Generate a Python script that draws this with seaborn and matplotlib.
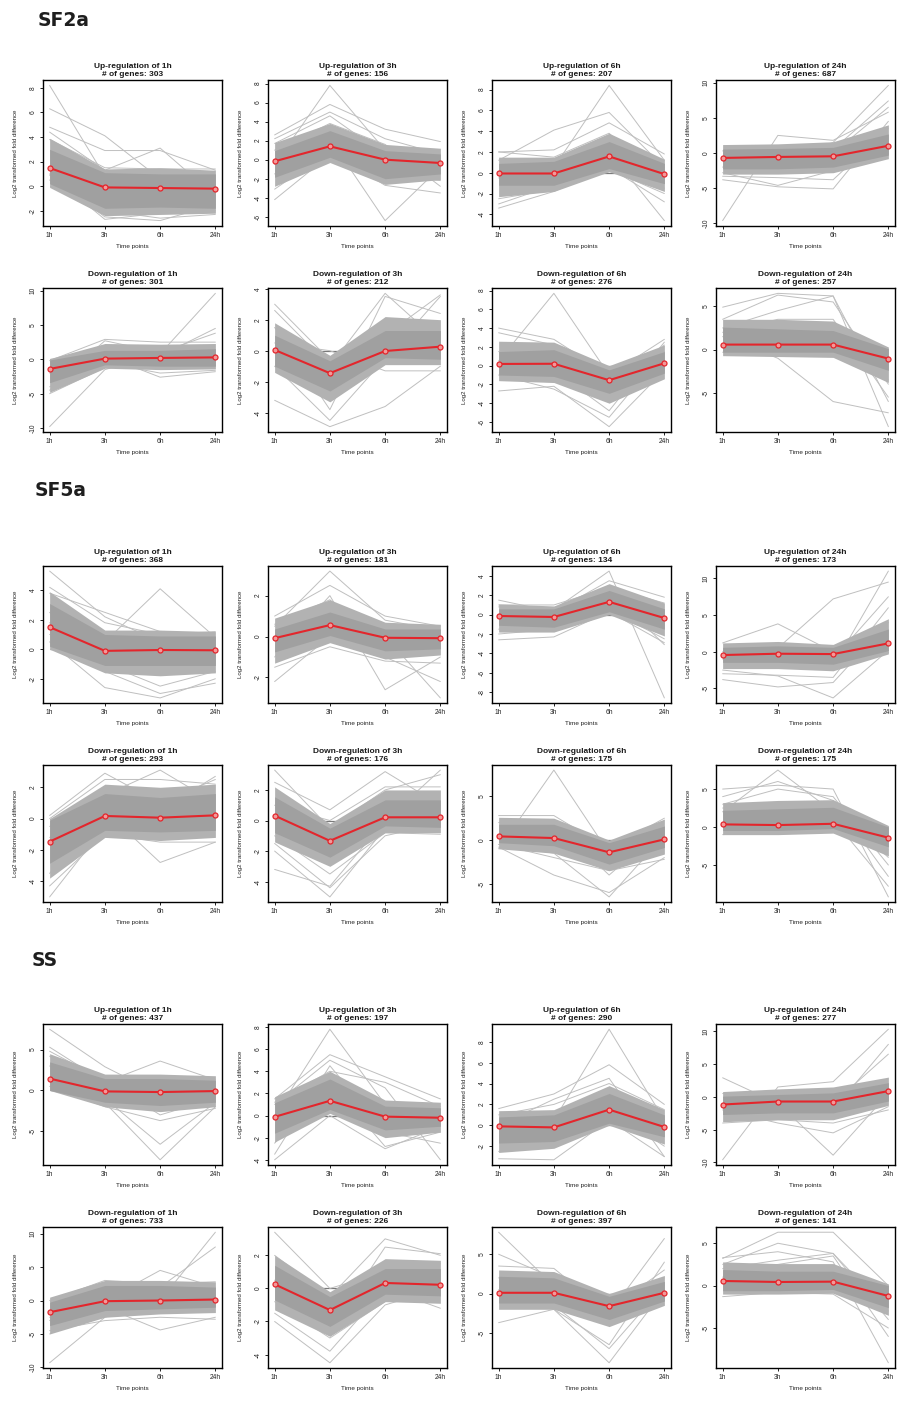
import numpy as np
import pandas as pd
import matplotlib
matplotlib.use("Agg")
import matplotlib.pyplot as plt
import seaborn as sns

# ---------------- data ----------------
TIMEPOINTS = ["1h", "3h", "6h", "24h"]
SECTIONS = ["SF2a", "SF5a", "SS"]
PANEL_TITLES = ["Up-regulation of 1h", "Up-regulation of 3h", "Up-regulation of 6h",
                "Up-regulation of 24h", "Down-regulation of 1h", "Down-regulation of 3h",
                "Down-regulation of 6h", "Down-regulation of 24h"]

# ---- SF2a ----
SF2A_NGENES = [303, 156, 207, 687, 301, 212, 276, 257]
SF2A_MEAN = [[1.48, -0.10, -0.15, -0.20], [-0.17, 1.40, 0.00, -0.35],
             [-0.07, -0.07, 1.57, -0.13], [-0.70, -0.56, -0.47, 1.03],
             [-1.40, 0.10, 0.20, 0.28], [0.05, -1.45, -0.02, 0.26],
             [0.18, 0.20, -1.55, 0.25], [0.58, 0.58, 0.58, -1.04]]
SF2A_LO = [[0.2, -1.8, -1.7, -1.8], [-1.85, 0.25, -2.0, -1.5],
           [-1.2, -1.2, 0.4, -1.05], [-2.25, -2.25, -2.0, -0.3],
           [-3.4, -0.8, -1.0, -1.0], [-1.0, -2.6, -0.45, -0.55],
           [-1.0, -1.15, -2.95, -0.8], [-0.3, -0.3, -0.3, -2.4]]
SF2A_HI = [[3.0, 1.1, 1.0, 1.0], [0.95, 3.05, 0.95, 0.6],
           [0.9, 1.1, 3.0, 0.9], [0.56, 0.65, 0.8, 2.7],
           [-0.1, 1.3, 1.3, 1.55], [1.0, -0.65, 1.3, 1.3],
           [1.5, 1.7, -0.45, 1.5], [2.6, 2.4, 2.2, 0.1]]
SF2A_OUTER_LO = [[-0.1, -2.4, -2.3, -2.2], [-2.8, -0.3, -2.6, -2.1],
                 [-2.3, -1.8, 0.1, -1.8], [-3.0, -3.0, -2.8, -0.8],
                 [-4.8, -1.3, -1.5, -1.4], [-1.4, -3.3, -0.9, -0.9],
                 [-1.6, -1.8, -4.0, -1.4], [-0.7, -0.8, -0.9, -3.8]]
SF2A_OUTER_HI = [[3.9, 1.4, 1.5, 1.3], [1.8, 3.8, 1.6, 1.2],
                 [1.5, 1.5, 3.8, 1.3], [1.2, 1.3, 1.6, 4.0],
                 [0.1, 2.3, 2.2, 2.3], [1.8, -0.3, 2.2, 2.0],
                 [2.6, 2.5, 0.0, 2.2], [3.5, 3.5, 3.3, 0.3]]
SF2A_OUTLIERS = [
    [[8.2, 0.8, 0.2, -0.5], [6.3, 4.1, 0.6, -0.3], [4.8, 2.9, 2.9, 1.3],
     [4.4, 1.3, 3.1, -0.8], [3.8, 1.5, 1.4, 1.4], [1.0, -2.7, -2.2, -2.0],
     [0.9, -2.5, -2.8, -1.5], [0.5, -2.0, -2.6, -2.3]],
    [[-0.5, 7.8, 1.0, -0.5], [2.6, 5.8, 3.2, 1.9], [2.2, 5.0, 2.2, 0.6],
     [1.7, 4.6, 0.5, -1.0], [-4.2, 0.5, -1.5, -2.2], [-3.1, 0.9, -2.7, -3.5],
     [-1.5, 2.2, -6.4, -0.8], [1.0, 3.8, 1.6, -2.8]],
    [[-0.5, 0.5, 8.4, 1.2], [1.2, 4.1, 5.8, 0.5], [2.0, 2.2, 4.8, 1.8],
     [2.0, 1.5, 3.8, -1.5], [-3.4, -1.8, 0.5, -2.8], [-3.0, -1.2, 2.0, -4.6],
     [-2.5, -1.6, 0.3, -2.0]],
    [[-9.6, 2.5, 1.8, 5.8], [-1.0, -1.5, 1.5, 9.6], [0.3, -0.5, 0.5, 7.4],
     [-2.0, -1.0, 0.0, 6.5], [-3.8, -4.8, -5.1, 4.5], [-3.3, -3.5, -3.8, 3.5],
     [-2.8, -4.6, -2.5, 2.0]],
    [[-9.8, -1.5, 0.8, 9.6], [-5.0, -1.2, 0.5, 4.5], [-4.5, 2.7, 1.0, 3.8],
     [-0.2, 2.9, 2.5, 2.5], [-2.0, 0.5, -2.6, -1.8], [-4.0, -0.5, -2.0, -1.6]],
    [[3.0, -0.6, 1.0, 3.6], [2.6, -1.0, 3.7, 0.5], [-3.2, -4.9, -3.6, -1.0],
     [-1.0, -4.5, -0.5, 3.5], [1.5, -3.8, 3.5, 2.4], [0.5, 0.0, -1.3, -1.3]],
    [[0.5, 7.7, -1.0, 0.5], [4.0, 2.8, -1.0, 2.8], [3.5, 2.2, -2.0, 2.2],
     [-2.7, -2.2, -6.5, -0.5], [-1.0, -2.5, -5.5, 1.5], [1.5, -0.5, -4.8, 2.5]],
    [[4.9, 6.5, 6.2, -8.9], [3.5, 6.3, 5.5, -4.0], [2.5, 4.5, 6.2, -6.0],
     [1.5, -1.0, -6.0, -7.3], [2.0, 3.5, 3.5, -5.5], [-0.3, -0.5, 0.0, -3.5]],
]
SF2A_YTICKS = [[-2, 0, 2, 4, 6, 8], [-6, -4, -2, 0, 2, 4, 6, 8], [-4, -2, 0, 2, 4, 6, 8],
               [-10, -5, 0, 5, 10], [-10, -5, 0, 5, 10], [-4, -2, 0, 2, 4],
               [-6, -4, -2, 0, 2, 4, 6, 8], [-5, 0, 5]]

# ---- SF5a ----
SF5A_NGENES = [368, 181, 134, 173, 293, 176, 175, 175]
SF5A_MEAN = [[1.50, -0.11, -0.05, -0.07], [-0.08, 0.56, -0.06, -0.08],
             [-0.14, -0.24, 1.32, -0.35], [-0.45, -0.27, -0.32, 1.14],
             [-1.47, 0.17, 0.06, 0.21], [0.32, -1.33, 0.21, 0.21],
             [0.42, 0.23, -1.40, 0.08], [0.35, 0.26, 0.43, -1.40]]
SF5A_LO = [[0.2, -1.1, -1.1, -1.1], [-0.75, 0.05, -0.7, -0.6],
           [-1.1, -1.3, 0.3, -1.5], [-1.45, -1.45, -1.7, 0.15],
           [-2.85, -0.75, -0.85, -0.75], [-0.8, -2.4, -0.35, -0.45],
           [-0.3, -0.65, -2.75, -0.85], [-0.45, -0.45, -0.2, -2.6]]
SF5A_HI = [[3.1, 1.0, 0.9, 0.9], [0.37, 1.2, 0.37, 0.37],
           [0.6, 0.6, 2.5, 0.6], [0.6, 0.8, 0.6, 3.1],
           [-0.1, 1.6, 1.35, 1.6], [1.55, -0.5, 1.35, 1.35],
           [1.8, 1.8, -0.3, 1.6], [2.2, 2.4, 2.6, 0.0]]
SF5A_OUTER_LO = [[0.0, -1.6, -1.8, -1.6], [-1.3, -0.3, -1.1, -0.9],
                 [-1.8, -1.8, 0.0, -2.2], [-2.3, -2.3, -2.6, -0.3],
                 [-3.8, -1.2, -1.4, -1.2], [-1.4, -3.0, -0.8, -0.8],
                 [-1.0, -1.5, -3.5, -1.6], [-1.0, -1.0, -0.8, -3.8]]
SF5A_OUTER_HI = [[3.9, 1.3, 1.3, 1.2], [0.9, 1.8, 0.7, 0.6],
                 [1.1, 0.9, 3.2, 1.2], [1.2, 1.4, 1.0, 4.5],
                 [0.0, 2.2, 2.0, 2.2], [2.2, -0.2, 2.0, 2.0],
                 [2.6, 2.5, 0.0, 2.4], [3.2, 3.5, 3.6, 0.2]]
SF5A_OUTLIERS = [
    [[5.3, 2.2, 0.5, -0.5], [4.2, 1.8, 1.0, 1.2], [1.0, 0.5, 4.1, 0.8],
     [3.8, 2.5, 1.2, 0.3], [0.5, -2.6, -3.3, -2.0], [1.8, -1.5, -3.0, -2.3],
     [2.5, -1.0, -2.5, -1.5]],
    [[0.5, 3.2, 0.8, 0.3], [1.0, 2.5, 1.0, 0.5], [-2.2, 0.0, -1.0, -0.5],
     [-1.0, 2.0, -2.6, -1.0], [0.0, 1.5, 0.0, -3.0], [0.6, 1.8, -1.0, -2.2],
     [-1.5, -0.5, -1.2, -1.3]],
    [[0.8, 0.5, 4.5, -8.6], [1.5, 0.3, 3.5, 1.8], [-2.6, -2.3, 0.3, -2.9],
     [-1.5, -0.5, 2.5, -3.1], [1.0, 1.0, 2.8, 1.2], [-2.0, -1.5, 0.5, -2.5]],
    [[-1.0, 0.5, 7.2, 9.5], [1.2, 3.8, 0.0, 2.0], [-2.5, -3.3, -6.3, 0.2],
     [-3.8, -4.8, -4.2, 4.0], [-0.5, -1.0, -2.0, 11.0], [0.0, -0.5, -1.0, 7.5],
     [-3.0, -3.2, -3.5, 6.0]],
    [[-5.0, -0.5, -1.0, 0.0], [0.2, 2.9, 1.0, 2.5], [-0.5, 1.5, 3.1, 1.0],
     [-1.2, 0.5, -2.8, -1.5], [-3.5, 1.0, 0.5, 2.7], [-4.3, -1.0, -1.5, -1.5],
     [0.0, 2.5, 2.5, 2.2]],
    [[3.3, -0.5, 2.0, 3.0], [2.5, 0.7, 3.2, 1.0], [-1.5, -4.4, -1.0, -0.2],
     [-2.0, -5.0, -0.5, 0.5], [-3.2, -4.3, 0.0, 3.3], [-1.0, -3.5, -0.8, -0.9],
     [1.0, 0.0, 2.2, 2.2]],
    [[-1.0, 8.0, -1.5, -0.5], [2.8, 2.8, -1.0, 2.5], [-0.5, -1.5, -6.5, 0.5],
     [-0.8, -4.0, -6.0, -2.0], [2.0, 2.0, -4.0, 1.5], [-0.5, -2.0, -3.5, -2.2]],
    [[2.0, 7.5, 2.0, -3.0], [5.0, 5.5, 5.0, -9.2], [4.0, 6.0, 3.5, -6.5],
     [3.0, 5.0, 4.0, -5.0], [-1.0, -0.5, 1.0, -7.8], [2.5, 3.0, 2.5, -4.0]],
]
SF5A_YTICKS = [[-2, 0, 2, 4], [-2, 0, 2], [-8, -6, -4, -2, 0, 2, 4], [-5, 0, 5, 10],
               [-4, -2, 0, 2], [-4, -2, 0, 2], [-5, 0, 5], [-5, 0, 5]]

# ---- SS ----
SS_NGENES = [437, 197, 290, 277, 733, 226, 397, 141]
SS_MEAN = [[1.45, -0.12, -0.20, -0.08], [-0.12, 1.33, -0.10, -0.20],
           [-0.10, -0.20, 1.50, -0.16], [-1.18, -0.72, -0.72, 0.87],
           [-1.75, -0.10, 0.00, 0.15], [0.25, -1.31, 0.33, 0.22],
           [0.10, 0.10, -1.60, 0.10], [0.55, 0.43, 0.47, -1.22]]
SS_LO = [[0.0, -1.45, -1.85, -1.45], [-1.6, 0.55, -1.3, -0.97],
         [-1.7, -1.55, 0.2, -1.1], [-2.7, -2.45, -2.45, -0.65],
         [-3.75, -1.5, -1.25, -1.0], [-0.7, -2.3, -0.35, -0.45],
         [-1.2, -1.2, -3.3, -0.95], [-0.6, -0.6, -0.45, -2.6]]
SS_HI = [[3.5, 1.45, 1.45, 1.25], [1.15, 3.3, 0.85, 0.7],
         [0.8, 1.0, 3.05, 1.0], [0.1, 0.35, 0.6, 2.15],
         [-0.25, 2.25, 2.25, 2.0], [1.4, -0.5, 1.2, 1.2],
         [2.2, 2.0, -0.35, 1.55], [1.9, 1.7, 1.7, 0.0]]
SS_OUTER_LO = [[0.0, -2.0, -2.6, -2.0], [-2.4, 0.2, -2.0, -1.5],
               [-2.6, -2.2, 0.0, -1.8], [-3.8, -3.5, -3.5, -1.3],
               [-5.0, -2.5, -2.0, -1.8], [-1.3, -2.9, -0.8, -0.9],
               [-2.0, -2.0, -4.2, -1.5], [-1.0, -1.0, -0.9, -3.5]]
SS_OUTER_HI = [[4.5, 2.0, 2.0, 1.8], [1.7, 4.0, 1.4, 1.2],
               [1.4, 1.5, 3.8, 1.5], [0.8, 1.2, 1.5, 3.0],
               [0.5, 3.0, 3.0, 2.8], [2.0, -0.2, 1.8, 1.7],
               [3.0, 2.8, 0.0, 2.3], [2.8, 2.6, 2.6, 0.2]]
SS_OUTLIERS = [
    [[7.5, 2.9, -0.5, 0.5], [5.3, 1.0, 3.6, 1.3], [4.2, -1.0, -6.6, -1.5],
     [3.0, -1.5, -8.5, -2.0], [0.5, -2.0, -3.7, -2.2], [4.8, 1.2, -3.0, -1.0]],
    [[0.0, 7.8, 1.0, -0.5], [1.5, 5.5, 3.5, 1.5], [1.0, 5.0, 2.5, -4.0],
     [-3.5, 4.5, -1.5, -2.5], [-4.0, 0.0, -3.0, -1.0], [-2.5, 3.0, -2.8, -1.5],
     [1.2, 4.0, 3.0, 0.8]],
    [[0.0, 0.5, 9.2, 0.5], [1.6, 3.0, 5.8, 2.0], [0.0, 2.5, 4.5, -3.0],
     [-3.2, -3.3, 0.5, -3.0], [-2.5, -1.5, 1.5, -2.0], [1.0, 2.0, 4.0, 1.5]],
    [[-9.6, 1.5, 2.3, 10.3], [2.9, -1.0, -8.9, 0.5], [-1.0, -1.5, -2.0, 8.0],
     [0.5, 0.0, -1.0, 6.5], [-4.0, -3.5, -4.0, -2.0], [-2.0, -4.0, -5.5, -1.5]],
    [[-9.3, -2.5, 0.0, 10.2], [-5.0, 0.0, 4.5, 2.0], [0.0, 3.0, 2.5, 2.8],
     [-2.5, -1.0, -4.4, -2.5], [-4.5, -3.0, -2.5, -2.8], [-3.0, 0.5, 2.0, 8.0]],
    [[3.4, 0.0, 1.0, 1.5], [2.0, -0.5, 3.0, 2.0], [-2.0, -4.5, -1.0, 0.0],
     [-1.5, -3.8, 0.0, -1.2], [0.5, -2.5, 2.5, 2.1], [-0.8, -3.0, -0.8, -0.5]],
    [[7.8, 1.0, -4.0, 2.0], [3.5, 3.2, -2.5, 7.0], [-3.7, -2.0, -8.8, 0.5],
     [0.5, -2.0, -6.5, 4.0], [2.0, -1.5, -7.0, 1.0], [5.0, 2.0, -2.0, 3.0]],
    [[3.2, 6.3, 6.3, 0.0], [2.5, 5.0, 3.8, -4.0], [3.3, 4.0, 2.8, -9.1],
     [1.0, 2.5, 3.5, -6.0], [-1.3, -0.8, -1.0, -5.0], [2.0, 3.0, 3.8, -3.0]],
]
SS_YTICKS = [[-5, 0, 5], [-4, -2, 0, 2, 4, 6, 8], [-2, 0, 2, 4, 6, 8], [-10, -5, 0, 5, 10],
             [-10, -5, 0, 5, 10], [-4, -2, 0, 2], [-5, 0, 5], [-5, 0, 5]]

# ---------------- layout (pixels) ----------------
W, H = 908, 1405
COL_LEFT = [43, 268, 492, 716]
AX_W = 179
ROW_TOP = [80, 288, 566, 765, 1024, 1227]
ROW_H = [146, 144, 137, 137, 141, 141]
SECTION_POS = [(38, 21), (35, 491), (32, 960)]

sns.set_theme(style="white")
plt.rcParams["font.family"] = ["Liberation Sans", "DejaVu Sans"]
plt.rcParams["axes.unicode_minus"] = False

fig = plt.figure(figsize=(W / 100, H / 100), dpi=100)
fig.patch.set_facecolor("white")

RED = "#e3262c"
BAND = "#a0a0a0"
OUTER = "#b2b2b2"
OUT = "#bfbfbf"

section_data = [
    (SF2A_NGENES, SF2A_MEAN, SF2A_LO, SF2A_HI, SF2A_OUTER_LO, SF2A_OUTER_HI, SF2A_OUTLIERS, SF2A_YTICKS),
    (SF5A_NGENES, SF5A_MEAN, SF5A_LO, SF5A_HI, SF5A_OUTER_LO, SF5A_OUTER_HI, SF5A_OUTLIERS, SF5A_YTICKS),
    (SS_NGENES, SS_MEAN, SS_LO, SS_HI, SS_OUTER_LO, SS_OUTER_HI, SS_OUTLIERS, SS_YTICKS),
]

X = np.arange(len(TIMEPOINTS))

for s, (name, (ngenes, means, los, his, olos, ohis, outs, yticks)) in enumerate(zip(SECTIONS, section_data)):
    sx, sy = SECTION_POS[s]
    fig.text(sx / W, 1 - sy / H, name, fontsize=13.5, fontweight="bold",
             family="DejaVu Sans", color="#1e1e1e", ha="left", va="center")
    for p in range(8):
        r = s * 2 + p // 4
        c = p % 4
        left, top, h = COL_LEFT[c], ROW_TOP[r], ROW_H[r]
        ax = fig.add_axes([left / W, 1 - (top + h) / H, AX_W / W, h / H])

        # outlier gene profiles
        rows = []
        for k, line in enumerate(outs[p]):
            for xi, yi in zip(X, line):
                rows.append((xi, yi, k))
        df = pd.DataFrame(rows, columns=["x", "y", "gene"])
        ax.hlines(0, X[0], X[-1], color="#7a7a7a", lw=0.9, zorder=0.8)
        sns.lineplot(data=df, x="x", y="y", units="gene", estimator=None,
                     color=OUT, lw=0.7, ax=ax, legend=False, zorder=1)
        # looser and dense cores of profiles
        ax.fill_between(X, olos[p], ohis[p], color=OUTER, lw=0, zorder=1.1)
        ax.fill_between(X, los[p], his[p], color=BAND, lw=0, zorder=1.2)
        # mean profile
        sns.lineplot(x=X, y=means[p], color=RED, lw=1.5, marker="o", markersize=3.6,
                     markerfacecolor="#f29a9a", markeredgecolor=RED, markeredgewidth=0.9,
                     ax=ax, zorder=3, legend=False)

        allv = np.concatenate([np.ravel(outs[p]), olos[p], ohis[p], means[p]])
        lo_v, hi_v = allv.min(), allv.max()
        pad = 0.04 * (hi_v - lo_v)
        ylim = (lo_v - pad, hi_v + pad)
        ax.set_xticks(X)
        ax.set_xticklabels(TIMEPOINTS)
        ax.set_yticks([t for t in yticks[p] if ylim[0] <= t <= ylim[1]])
        ax.set_ylim(*ylim)
        ax.set_xlim(X[0] - 0.12, X[-1] + 0.12)

        for sp in ax.spines.values():
            sp.set_visible(True)
            sp.set_color("black")
            sp.set_linewidth(1.0)
        ax.tick_params(axis="both", which="major", direction="out", length=2.3,
                       width=0.6, color="black", labelsize=4.8, pad=2.2,
                       bottom=True, left=True, labelcolor="#222222")
        for lab in ax.get_yticklabels():
            lab.set_rotation(90)
            lab.set_va("center")
            lab.set_ha("right")
        ax.set_xlabel("Time points", fontsize=4.6, color="#222222")
        ax.set_ylabel("Log2 transformed fold difference", fontsize=4.4, color="#222222")
        ax.xaxis.set_label_coords(0.5, -18 / h)
        ax.yaxis.set_label_coords(-25 / AX_W, 0.5)
        ax.set_title(f"{PANEL_TITLES[p]}\n# of genes: {ngenes[p]}", fontsize=6,
                     fontweight="bold", pad=3, linespacing=1.15, color="#1a1a1a")
        ax.set_facecolor("white")

fig.savefig("out.png", dpi=100, facecolor="white")
